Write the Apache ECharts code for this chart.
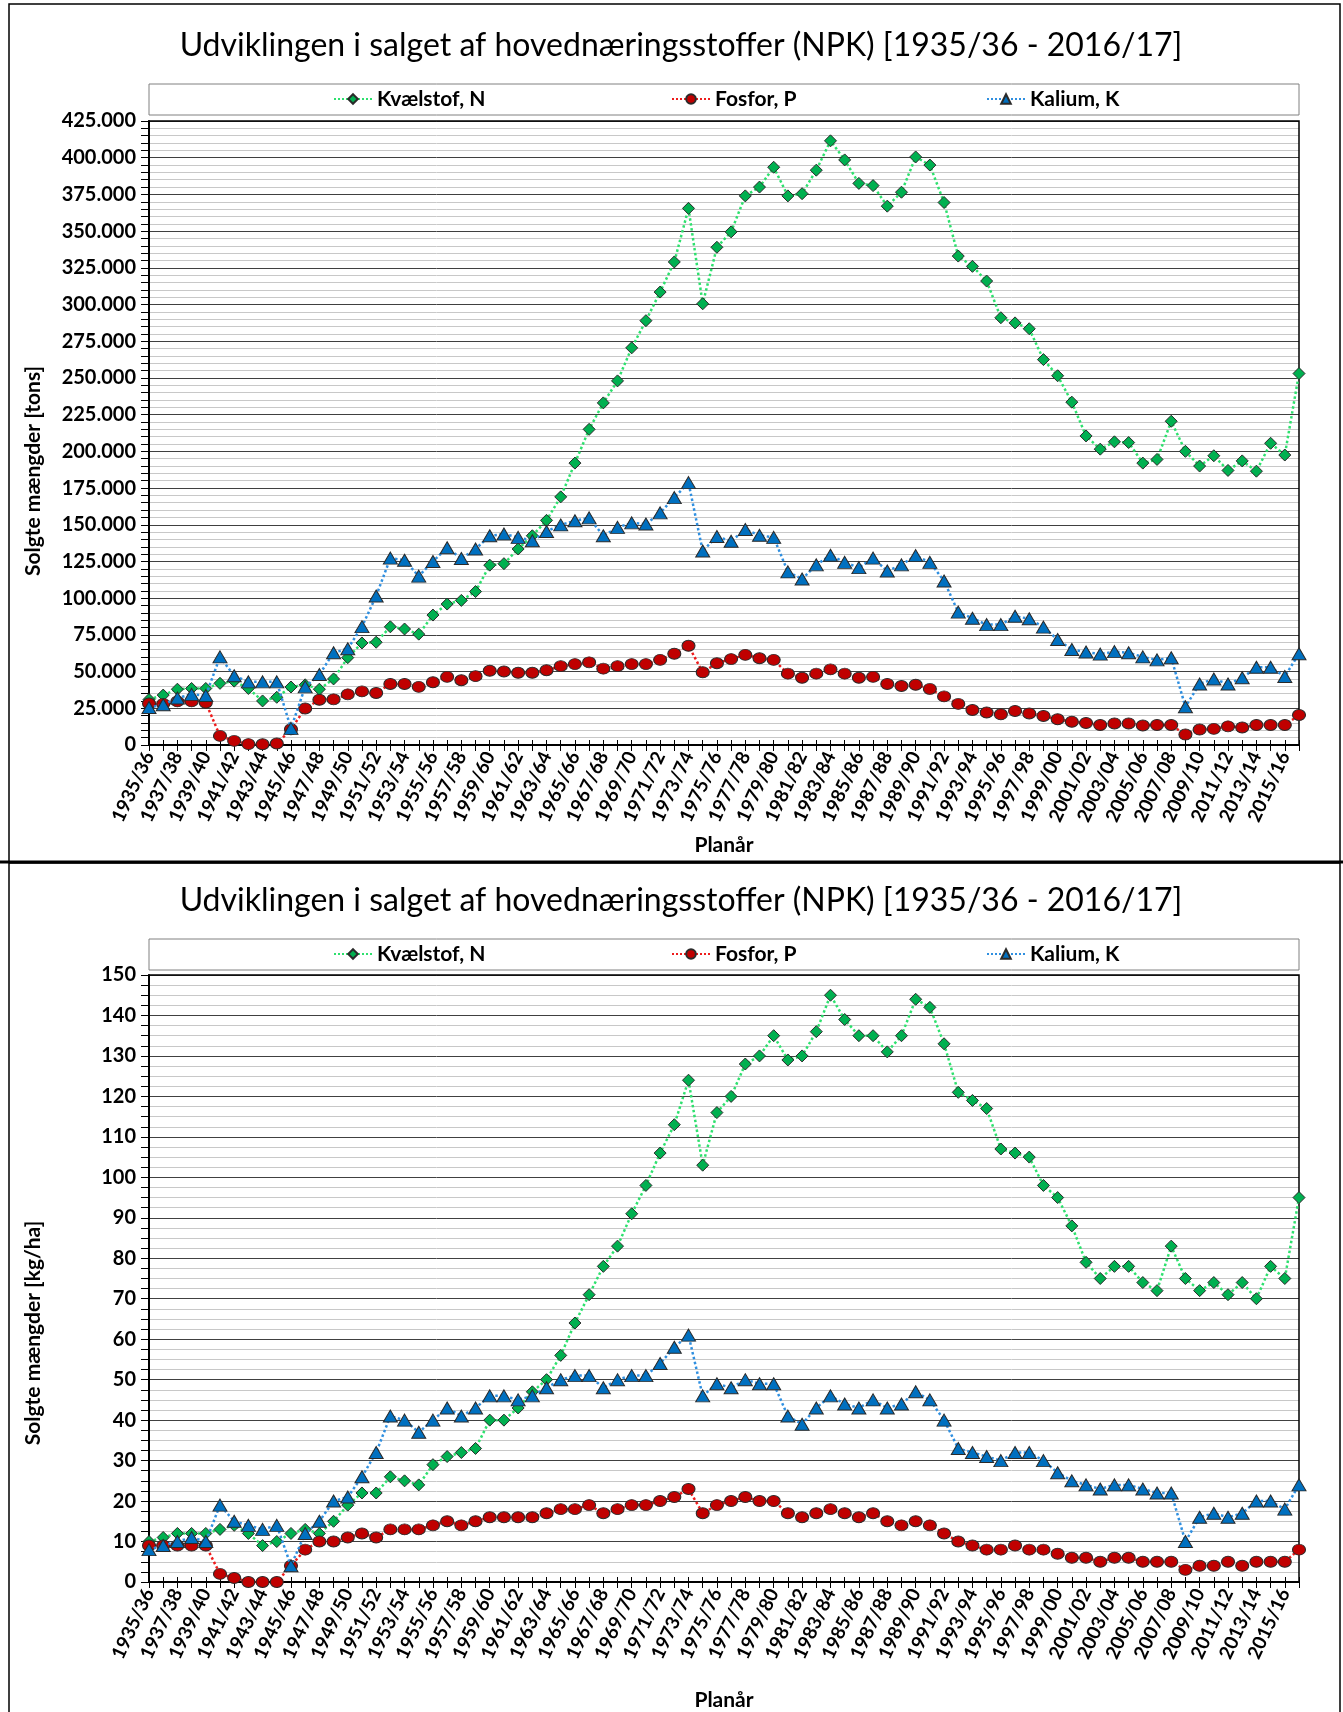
<!DOCTYPE html>
<html>
<head>
<meta charset="utf-8">
<script src="https://cdn.jsdelivr.net/npm/echarts@6/dist/echarts.min.js"></script>
<style>
  html, body { margin: 0; padding: 0; background: #fff; }
  #chart { width: 1343px; height: 1712px; }
</style>
</head>
<body>
<div id="chart"></div>
<script>
// ---------- DATA ----------
const categories = [
  "1935/36","1936/37","1937/38","1938/39","1939/40","1940/41","1941/42","1942/43","1943/44","1944/45",
  "1945/46","1946/47","1947/48","1948/49","1949/50","1950/51","1951/52","1952/53","1953/54","1954/55",
  "1955/56","1956/57","1957/58","1958/59","1959/60","1960/61","1961/62","1962/63","1963/64","1964/65",
  "1965/66","1966/67","1967/68","1968/69","1969/70","1970/71","1971/72","1972/73","1973/74","1974/75",
  "1975/76","1976/77","1977/78","1978/79","1979/80","1980/81","1981/82","1982/83","1983/84","1984/85",
  "1985/86","1986/87","1987/88","1988/89","1989/90","1990/91","1991/92","1992/93","1993/94","1994/95",
  "1995/96","1996/97","1997/98","1998/99","1999/00","2000/01","2001/02","2002/03","2003/04","2004/05",
  "2005/06","2006/07","2007/08","2008/09","2009/10","2010/11","2011/12","2012/13","2013/14","2014/15",
  "2015/16","2016/17"
];

const seriesNames = ["Kvælstof, N", "Fosfor, P", "Kalium, K"];

// Top chart: tons
const nTons = [
  31000, 34000, 38000, 38500, 38500, 42000, 43500, 38500, 30000, 32500,
  39500, 41000, 38000, 45000, 59500, 69500, 70000, 80500, 79000, 75500,
  88500, 96000, 98500, 104500, 122500, 123500, 133500, 142500, 153000, 169000,
  192000, 215000, 233000, 248000, 270500, 289000, 308500, 329000, 365500, 300500,
  339000, 349500, 374000, 380000, 393500, 374000, 375500, 391500, 411500, 398500,
  382500, 381000, 367000, 376500, 400500, 395000, 369500, 333000, 326000, 316000,
  291000, 287500, 283500, 262500, 251500, 233500, 210500, 201500, 206500, 206000,
  192000, 194500, 220500, 200000, 190000, 197000, 187000, 193500, 186500, 205500,
  197500, 253000
];
const pTons = [
  28300, 28000, 29700, 29700, 28800, 6200, 2800, 600, 500, 1000,
  10700, 24900, 30800, 31100, 34500, 36500, 35400, 41600, 41600, 39600,
  42700, 46400, 44100, 46900, 50600, 50100, 49200, 49200, 50900, 53700,
  55100, 56300, 52000, 53700, 55100, 55100, 58000, 62200, 67600, 49500,
  55700, 58500, 61400, 59100, 58000, 48600, 45800, 48600, 51500, 48600,
  45800, 46400, 41600, 40200, 41000, 38200, 33100, 28000, 23800, 22100,
  20900, 23200, 21500, 19800, 17500, 15800, 15000, 13600, 14700, 14700,
  13300, 13600, 13600, 7100, 10500, 11000, 12700, 11900, 13600, 13600,
  13600, 20400
];
const kTons = [
  25500, 27400, 32000, 34500, 33700, 60000, 47200, 43000, 43000, 43000,
  11300, 39600, 48000, 62800, 65600, 80600, 101500, 127300, 125800, 115000,
  125000, 134300, 127000, 133500, 142500, 143700, 141400, 139100, 145400, 149900,
  152700, 154700, 142500, 148200, 151300, 150500, 158100, 168500, 178700, 132100,
  142000, 138800, 146800, 142800, 141400, 117900, 113100, 122700, 129200, 124400,
  120800, 127300, 118500, 122700, 129000, 124400, 111700, 90500, 86300, 82000,
  82000, 87700, 86000, 80300, 71800, 65000, 63300, 61900, 63600, 62800,
  60000, 58000, 59400, 26000, 41600, 45000, 41600, 45800, 52900, 52900,
  46700, 62200
];

// Bottom chart: kg/ha
const nKg = [
  10, 11, 12, 12, 12, 13, 14, 12, 9, 10,
  12, 13, 12, 15, 19, 22, 22, 26, 25, 24,
  29, 31, 32, 33, 40, 40, 43, 47, 50, 56,
  64, 71, 78, 83, 91, 98, 106, 113, 124, 103,
  116, 120, 128, 130, 135, 129, 130, 136, 145, 139,
  135, 135, 131, 135, 144, 142, 133, 121, 119, 117,
  107, 106, 105, 98, 95, 88, 79, 75, 78, 78,
  74, 72, 83, 75, 72, 74, 71, 74, 70, 78,
  75, 95
];
const pKg = [
  9, 9, 9, 9, 9, 2, 1, 0, 0, 0,
  4, 8, 10, 10, 11, 12, 11, 13, 13, 13,
  14, 15, 14, 15, 16, 16, 16, 16, 17, 18,
  18, 19, 17, 18, 19, 19, 20, 21, 23, 17,
  19, 20, 21, 20, 20, 17, 16, 17, 18, 17,
  16, 17, 15, 14, 15, 14, 12, 10, 9, 8,
  8, 9, 8, 8, 7, 6, 6, 5, 6, 6,
  5, 5, 5, 3, 4, 4, 5, 4, 5, 5,
  5, 8
];
const kKg = [
  8, 9, 10, 11, 10, 19, 15, 14, 13, 14,
  4, 12, 15, 20, 21, 26, 32, 41, 40, 37,
  40, 43, 41, 43, 46, 46, 45, 46, 48, 50,
  51, 51, 48, 50, 51, 51, 54, 58, 61, 46,
  49, 48, 50, 49, 49, 41, 39, 43, 46, 44,
  43, 45, 43, 44, 47, 45, 40, 33, 32, 31,
  30, 32, 32, 30, 27, 25, 24, 23, 24, 24,
  23, 22, 22, 10, 16, 17, 16, 17, 20, 20,
  18, 24
];

const titleText = "Udviklingen i salget af hovednæringsstoffer (NPK) [1935/36 - 2016/17]";
const yNameTop = "Solgte mængder [tons]";
const yNameBottom = "Solgte mængder [kg/ha]";
const xName = "Planår";

// ---------- STYLE ----------
const FONT = "Lato, 'Noto Sans', sans-serif";
const styles = [
  { line: "#2ee06e", fill: "#00b050", symbol: "diamond",  size: [12, 12] },
  { line: "#ee1c1c", fill: "#c00000", symbol: "circle",   size: [13, 11] },
  { line: "#2f8fe0", fill: "#0070c0", symbol: "triangle", size: [14, 12] }
];

function thousands(v) {
  return String(v).replace(/\B(?=(\d{3})+(?!\d))/g, ".");
}

const grids = [
  { left: 149, right: 44, top: 121, height: 624, show: true, borderColor: "#000", borderWidth: 1.5, z: 1 },
  { left: 149, right: 44, top: 975, height: 628, show: true, borderColor: "#000", borderWidth: 1.5, z: 1 }
];

function xAxisMain(gi, gap) {
  return {
    type: "category", gridIndex: gi, data: categories, boundaryGap: false, position: "bottom",
    axisLine: { lineStyle: { color: "#000", width: 2 } },
    axisTick: { show: true, interval: 0, length: 6, lineStyle: { color: "#000", width: 1 } },
    axisLabel: { interval: 1, rotate: 65, margin: 8, color: "#000", fontFamily: FONT, fontWeight: "bold", fontSize: 19 },
    splitLine: { show: false },
    name: xName, nameLocation: "middle", nameGap: gap,
    nameTextStyle: { color: "#000", fontFamily: FONT, fontWeight: "bold", fontSize: 21 }
  };
}
function xAxisInner(gi) {
  return {
    type: "category", gridIndex: gi, data: categories, boundaryGap: false, position: "bottom",
    axisLine: { show: false },
    axisTick: { show: true, inside: true, interval: 0, length: 5, lineStyle: { color: "#000", width: 1 } },
    axisLabel: { show: false }, splitLine: { show: false }
  };
}
function yAxis(gi, max, interval, minorSplit, fmt) {
  return {
    type: "value", gridIndex: gi, min: 0, max: max, interval: interval,
    axisLine: { show: true, lineStyle: { color: "#000", width: 2 } },
    axisTick: { show: true, length: 8, lineStyle: { color: "#000" } },
    minorTick: { show: true, splitNumber: minorSplit, length: 8, lineStyle: { color: "#000" } },
    splitLine: { show: true, lineStyle: { color: "#404040", width: 1 } },
    minorSplitLine: { show: true, lineStyle: { color: "#c8c8c8", width: 1 } },
    axisLabel: { margin: 13, color: "#000", fontFamily: FONT, fontWeight: "bold", fontSize: 20, formatter: fmt }
  };
}

function mkSeries(i, data, xi, yi) {
  const s = styles[i];
  return {
    name: seriesNames[i], type: "line", xAxisIndex: xi, yAxisIndex: yi, data: data,
    symbol: s.symbol, symbolSize: s.size, showAllSymbol: true,
    lineStyle: { type: "dotted", width: 2.5, color: s.line },
    itemStyle: { color: s.fill, borderColor: "#2a2a2a", borderWidth: 1 },
    emphasis: { disabled: true }, z: 3 + i
  };
}

const legendLefts = [333, 671, 986];
const legendTops = [88, 943];
const legends = [];
legendTops.forEach(function (t) {
  seriesNames.forEach(function (n, i) {
    legends.push({
      data: [n], left: legendLefts[i], top: t, padding: 0,
      itemWidth: 38, itemHeight: 12, selectedMode: false,
      textStyle: { color: "#000", fontFamily: FONT, fontWeight: "bold", fontSize: 21, lineHeight: 22 }
    });
  });
});

function rotText(txt, cx, cy) {
  return { type: "text", x: cx, y: cy, rotation: Math.PI / 2,
    style: { text: txt, fill: "#000", font: "bold 21px " + FONT, textAlign: "center", textVerticalAlign: "middle" }, silent: true };
}

const graphics = [
  { type: "rect", shape: { x: 9, y: 4, width: 1331, height: 858 }, style: { fill: null, stroke: "#000", lineWidth: 1.5 }, silent: true },
  { type: "rect", shape: { x: 9, y: 863, width: 1331, height: 860 }, style: { fill: null, stroke: "#000", lineWidth: 1.5 }, silent: true },
  { type: "line", shape: { x1: 0, y1: 862, x2: 1343, y2: 862 }, style: { stroke: "#000", lineWidth: 3 }, silent: true },
  { type: "rect", shape: { x: 149, y: 84, width: 1150, height: 31 }, style: { fill: "#fff", stroke: "#808080", lineWidth: 1 }, silent: true, z: -1 },
  { type: "rect", shape: { x: 149, y: 939, width: 1150, height: 31 }, style: { fill: "#fff", stroke: "#808080", lineWidth: 1 }, silent: true, z: -1 },
  { type: "text", x: 681, y: 46, style: { text: titleText, fill: "#000", font: "32px " + FONT, textAlign: "center", textVerticalAlign: "middle" }, silent: true },
  { type: "text", x: 681, y: 901, style: { text: titleText, fill: "#000", font: "32px " + FONT, textAlign: "center", textVerticalAlign: "middle" }, silent: true },
  rotText(yNameTop, 33, 471),
  rotText(yNameBottom, 33, 1333)
];

const option = {
  backgroundColor: "#fff",
  animation: false,
  grid: grids,
  legend: legends,
  xAxis: [xAxisMain(0, 90), xAxisInner(0), xAxisMain(1, 108), xAxisInner(1)],
  yAxis: [
    yAxis(0, 425000, 25000, 5, thousands),
    yAxis(1, 150, 10, 4, function (v) { return String(v); })
  ],
  series: [
    mkSeries(0, nTons, 0, 0), mkSeries(1, pTons, 0, 0), mkSeries(2, kTons, 0, 0),
    mkSeries(0, nKg, 2, 1), mkSeries(1, pKg, 2, 1), mkSeries(2, kKg, 2, 1)
  ],
  graphic: graphics
};

const chart = echarts.init(document.getElementById("chart"), null, { renderer: "canvas" });
chart.setOption(option);
</script>
</body>
</html>
